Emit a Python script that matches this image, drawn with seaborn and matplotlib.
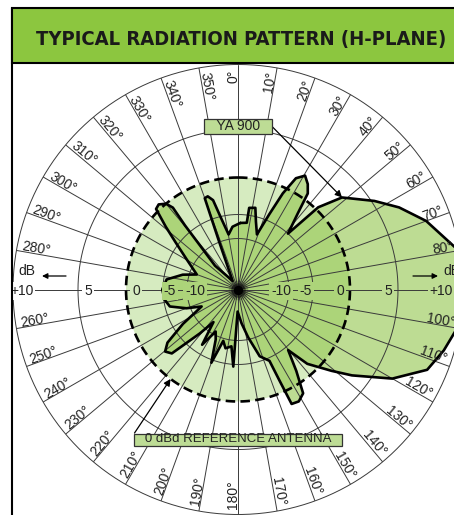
import numpy as np
import matplotlib
matplotlib.use("Agg")
import matplotlib.pyplot as plt
import matplotlib.colors as mcolors
from matplotlib import font_manager as fm
from matplotlib.patches import Rectangle
from matplotlib.lines import Line2D
import seaborn as sns

# ---------------- data ----------------
ya_angle = [2, 7.5, 7.8, 12, 14.8, 19, 22.6, 25, 27.5, 30.5, 33.5, 36, 38.1, 41.8,
            44.3, 48.5, 57, 63, 70, 79, 90, 101, 106.5, 113, 120, 127, 131, 137,
            140.4, 144.4, 147.9, 151.5, 154.9, 155.5, 156.2, 162, 168, 174, 181,
            183.5, 186.6, 192, 196, 200, 204, 208, 213, 217, 221, 226, 229.6, 233,
            238, 245, 250, 256, 262, 270, 278, 285, 290, 300.7, 307, 311, 314.5,
            317, 320, 321.5, 320.4, 319.2, 316, 328, 338.5, 340, 342, 344.4, 346.5,
            350.3, 355, 362]
ya_gain = [-6.75, -6.6, -4.0, -3.85, -6.0, -8.5, -4.1, -0.8, 1.4, 2.1, 1.5, 0.7, -2.0,
           -5.0, 0.3, 2.8, 5.2, 6.6, 8.1, 9.7, 10.0, 9.7, 9.2, 8.5, 6.4, 3.2, 1.25,
           -1.4, -4.5, -1.6, 1.1, 1.6, 1.5, -1.6, -4.6, -6.0, -10.6, -15.0, -18.5,
           -4.7, -8.7, -8.1, -9.5, -4.6, -9.2, -11.0, -6.9, -13.0, -8.5, -2.7, -2.2,
           -3.2, -7.1, -13.2, -9.2, -6.0, -5.2, -4.9, -5.6, -8.7, -12.1, -8.1, -4.6,
           -2.2, 0.3, 0.45, 0.0, -1.0, -3.9, -8.5, -15.3, -22.0, -9.8, -2.0, -1.9,
           -2.6, -5.1, -9.0, -7.5, -6.75]
ref_gain = 0.0                      # 0 dBd reference antenna
arrow_tip_angle = 48.5              # where the YA 900 pointer touches the pattern
ref_arrow_angle = 217

db_rings = [-10, -5, 5, 10]
db_ticks = [-10, -5, 0, 5, 10]
db_tick_labels = ["-10", "-5", "0", "5", "+10"]
deg_ticks = [a for a in range(0, 360, 10) if a not in (90, 270)]
deg_labels = [f"{a}\u00b0" for a in deg_ticks]
title = "TYPICAL RADIATION PATTERN (H-PLANE)"

# chart's own (log-like) radial scale: dB -> radius
scale_db = [-25.0, -10.0, -5.0, 0.0, 5.0, 10.0]
scale_r = [0.0, 51.0, 75.0, 112.0, 160.0, 225.0]


def fwd(x):
    return np.interp(x, scale_db, scale_r)


def inv(r):
    return np.interp(r, scale_r, scale_db)


# ---------------- style ----------------
sns.set_theme(style="white")
plt.rcParams["font.family"] = ["Liberation Sans", "DejaVu Sans"]

# title font: prefer a condensed bold face if one is installed
title_fp = fm.FontProperties(family=["Liberation Sans", "DejaVu Sans"], weight="bold")
for f in fm.fontManager.ttflist:
    st = str(f.stretch)
    if ("Narrow" in f.name or "Condensed" in f.name or
            st in ("condensed", "semi-condensed", "extra-condensed")):
        title_fp = fm.FontProperties(family=f.name, weight="bold", stretch=st)
        break

TITLE_GREEN = "#8cc63f"
REF_FILL = "#d6ebc0"
LOBE_HEX = "#91c54b"
ALPHA = 0.6
_l = np.array(mcolors.to_rgb(LOBE_HEX))
LOBE_OUT = mcolors.to_hex(ALPHA * _l + (1 - ALPHA) * np.ones(3))
LOBE_IN = mcolors.to_hex(ALPHA * _l + (1 - ALPHA) * np.array(mcolors.to_rgb(REF_FILL)))
GRID = "#3a3a3a"
BOX = "#bddc95"

W, H = 454, 515
fig = plt.figure(figsize=(W / 100, H / 100), dpi=100)
fig.patch.set_facecolor("white")
cx, cy, R = 238.0, 289.5, 225.0
ax = fig.add_axes([(cx - R) / W, (H - cy - R) / H, 2 * R / W, 2 * R / H],
                  projection="polar")
ax.set_theta_zero_location("N")
ax.set_theta_direction(-1)
ax.set_rscale("function", functions=(fwd, inv))
ax.set_rlim(-25, 10)
ax.grid(False)
ax.set_xticks([])
ax.set_yticks([])
ax.spines["polar"].set_visible(False)
ax.set_facecolor("white")

tt = np.linspace(0, 2 * np.pi, 721)
th = np.deg2rad(ya_angle)

# reference antenna disc and pattern fill
ax.fill(tt, np.full_like(tt, ref_gain), facecolor=REF_FILL, lw=0, zorder=1)
ax.fill(th, ya_gain, facecolor=LOBE_HEX, alpha=ALPHA, lw=0, zorder=2)

# grid
for d in db_rings:
    ax.plot(tt, np.full_like(tt, d), color=GRID, lw=0.7, zorder=3, clip_on=False)
for a in range(0, 360, 10):
    ax.plot([np.deg2rad(a)] * 2, [-25, 10], color=GRID, lw=0.7, zorder=3)

# reference dashed circle
ax.plot(tt, np.full_like(tt, ref_gain), color="black", lw=1.9,
        dashes=(3.6, 2.0), zorder=4)

# pattern outline
sns.lineplot(x=th, y=ya_gain, sort=False, estimator=None, ax=ax,
             color="black", lw=1.9, zorder=5)
ax.set_rlim(-25, 10)

# dark hub
for s, al in [(200, 0.2), (110, 0.45), (45, 1.0)]:
    ax.scatter([0], [-25], s=s, color="black", alpha=al, lw=0, zorder=6)

# degree labels
r_lab = inv(220)
for a, lab in zip(deg_ticks, deg_labels):
    right = a < 180
    rot = 90 - a if right else 270 - a
    ang = a - 1.3 if right else a + 1.3
    ax.text(np.deg2rad(ang), r_lab, lab, rotation=rot, rotation_mode="anchor",
            ha="right" if right else "left", va="center", fontsize=10,
            color="#222222", zorder=7)

# dB scale labels along the horizontal axis
offs = {-10: 8, -5: 7, 0: 10, 5: 10}
bg_right = {-10: LOBE_IN, -5: LOBE_IN, 0: LOBE_IN, 5: LOBE_OUT, 10: LOBE_OUT}
bg_left = {-10: LOBE_IN, -5: LOBE_IN, 0: REF_FILL, 5: "#ffffff", 10: "#ffffff"}
for d, lab in zip(db_ticks, db_tick_labels):
    for side, bg in ((90, bg_right), (270, bg_left)):
        if d == 10:
            rr = 203 if side == 90 else 216
        else:
            rr = float(fwd(d)) - offs[d]
        ax.text(np.deg2rad(side), float(inv(rr)), lab, ha="center",
                va="center_baseline", fontsize=10, color="#222222", zorder=7,
                bbox=dict(boxstyle="square,pad=0.12", facecolor=bg[d], edgecolor="none"))


def fig_xy(x, y):
    return (x / W, 1 - y / H)


# dB arrows
ax.annotate("", xy=fig_xy(42, 276), xytext=fig_xy(66, 276), xycoords="figure fraction",
            arrowprops=dict(arrowstyle="-|>", color="black", lw=0.9, mutation_scale=8,
                            shrinkA=0, shrinkB=0), zorder=8)
fig.text(*fig_xy(18, 271), "dB", ha="left", va="center", fontsize=10, color="#222222")
ax.annotate("", xy=fig_xy(438, 276), xytext=fig_xy(413, 276), xycoords="figure fraction",
            arrowprops=dict(arrowstyle="-|>", color="black", lw=0.9, mutation_scale=8,
                            shrinkA=0, shrinkB=0), zorder=8)
fig.text(*fig_xy(443, 271), "dB", ha="left", va="center", fontsize=10, color="#222222")

# YA 900 callout
i_tip = ya_angle.index(arrow_tip_angle)
ax.annotate("   YA 900   ", xy=(np.deg2rad(ya_angle[i_tip]), ya_gain[i_tip]),
            xytext=(0, float(inv(163))), ha="center", va="center", fontsize=10,
            color="#222222", zorder=9,
            bbox=dict(boxstyle="square,pad=0.05", facecolor=BOX, edgecolor="#333333", lw=0.9),
            arrowprops=dict(arrowstyle="-|>", color="black", lw=0.9, mutation_scale=10,
                            relpos=(1, 0.55), shrinkA=0, shrinkB=0))

# reference antenna callout
ax.annotate("   0 dBd REFERENCE ANTENNA   ",
            xy=(np.deg2rad(ref_arrow_angle), ref_gain),
            xytext=(np.pi, float(inv(150))), ha="center", va="center", fontsize=9.5,
            color="#222222", zorder=9,
            bbox=dict(boxstyle="square,pad=0.0", facecolor=BOX, edgecolor="#333333", lw=0.9),
            arrowprops=dict(arrowstyle="-|>", color="black", lw=0.9, mutation_scale=10,
                            relpos=(0, 1), shrinkA=0, shrinkB=0))

# title bar and frame
fig.patches.append(Rectangle(fig_xy(12, 63), (W - 12 + 10) / W, 55 / H,
                             transform=fig.transFigure, facecolor=TITLE_GREEN,
                             edgecolor="black", lw=1.5, zorder=10))
ttl = fig.text(*fig_xy(241, 40), title, ha="center", va="center", fontsize=17,
               fontproperties=title_fp, color="#1a1a1a", zorder=11)
ttl.set_fontsize(17)
renderer = fig.canvas.get_renderer()
wpx = ttl.get_window_extent(renderer=renderer).width
ttl.set_fontsize(min(19.0, 17 * 412.0 / wpx))
fig.add_artist(Line2D([12 / W, 12 / W], [0, 1 - 8 / H], color="black", lw=1.5,
                      transform=fig.transFigure, zorder=10))

fig.savefig("out.png", dpi=100, facecolor="white")
